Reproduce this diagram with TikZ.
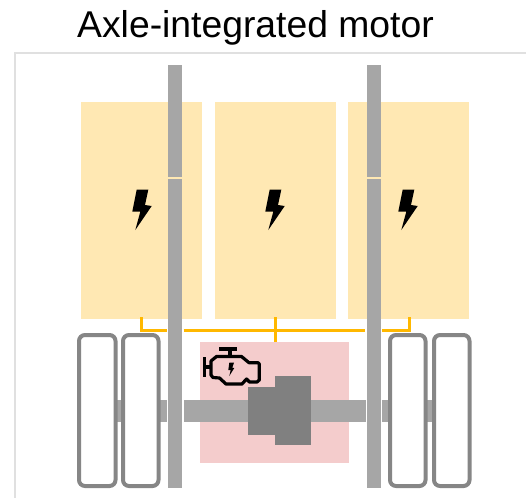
\documentclass[tikz,border=0pt]{standalone}
\usepackage{fontspec}
\setmainfont{Liberation Sans}
\definecolor{battery}{HTML}{FFE8B3}
\definecolor{pinkbox}{HTML}{F4CCCC}
\definecolor{railgrey}{HTML}{A6A6A6}
\definecolor{motorgrey}{HTML}{808080}
\definecolor{tyre}{HTML}{868686}
\definecolor{framegrey}{HTML}{E0E0E0}
\definecolor{wire}{HTML}{FFB800}
\tikzset{
  fillbattery/.style={fill=battery},
  tyrebox/.style={draw=tyre,line width=4pt,fill=white,rounded corners=6pt},
  wireline/.style={draw=wire,line width=3pt},
  enginepen/.style={draw=black,line width=3.2pt,line join=round},
}
\newcommand{\boltat}[1]{\fill[black,shift={(#1,0)}] (136.7,189.7) -- (148.3,189.7) -- (145,205) -- (151.7,206) -- (135.3,230) -- (140.3,211.7) -- (132.3,211.7) -- cycle;}
\begin{document}
\begin{tikzpicture}[x=1pt,y=-1pt]
\useasboundingbox (0,0) rectangle (526,498);
% title and frame
\node[anchor=base west,inner sep=0pt,font=\fontsize{37.3pt}{40pt}\selectfont] (title) at (77,37) {Axle-integrated motor};
\draw[framegrey,line width=2.5pt] (15,498) -- (15,53) -- (526,53);
% batteries
\fill[fillbattery] (81,102) rectangle (202,319);
\fill[fillbattery] (215,102) rectangle (336,319);
\fill[fillbattery] (348,102) rectangle (469,319);
\boltat{0} \boltat{133} \boltat{266}
% wiring
\draw[wireline] (141.7,317) -- (141.7,330) -- (166.8,330);
\draw[wireline] (183.5,330) -- (365.3,330);
\draw[wireline] (382,330) -- (409,330) -- (409,317);
\draw[wireline] (275,317) -- (275,343);
% pink box
\fill[pinkbox] (200,342) rectangle (349,463);
% axle
\fill[railgrey] (113,400) rectangle (167,422);
\fill[railgrey] (183.5,400) rectangle (365.5,422);
\fill[railgrey] (382,400) rectangle (436,422);
% motor
\fill[motorgrey] (248,387) rectangle (276,435);
\fill[motorgrey] (275,376) rectangle (311,445);
% wheels
\draw[tyrebox] (79,335) rectangle (115.5,486);
\draw[tyrebox] (123,335) rectangle (158.5,486);
\draw[tyrebox] (390,335) rectangle (425.5,486);
\draw[tyrebox] (434,335) rectangle (469.5,486);
% rails
\fill[railgrey] (168,65) rectangle (182,488);
\fill[railgrey] (367,65) rectangle (381,488);
\fill[battery] (168,176.8) rectangle (182,179);
\fill[battery] (367,176.8) rectangle (381,179);
% engine icon
\draw[enginepen] (204.5,357) -- (204.5,377);
\draw[enginepen] (204.5,367) -- (211,367);
\draw[enginepen] (219,349) -- (237,349);
\draw[enginepen,line width=4pt] (230,349) -- (230,356.5);
\draw[enginepen] (211,361) -- (216.5,356.5) -- (241.5,356.5) -- (249,362.7) -- (258,362.7) -- (259.3,364) -- (259.3,380) -- (257,382) -- (249.5,382) -- (246.5,379) -- (242,384) -- (226,384) -- (219.5,378) -- (213,377.5) -- (211,375) -- cycle;
\fill[black] (229.3,362.7) -- (234,362.7) -- (232.3,367.7) -- (234.3,368) -- (229.3,376) -- (230.7,370) -- (228.3,370) -- cycle;
\end{tikzpicture}
\end{document}
